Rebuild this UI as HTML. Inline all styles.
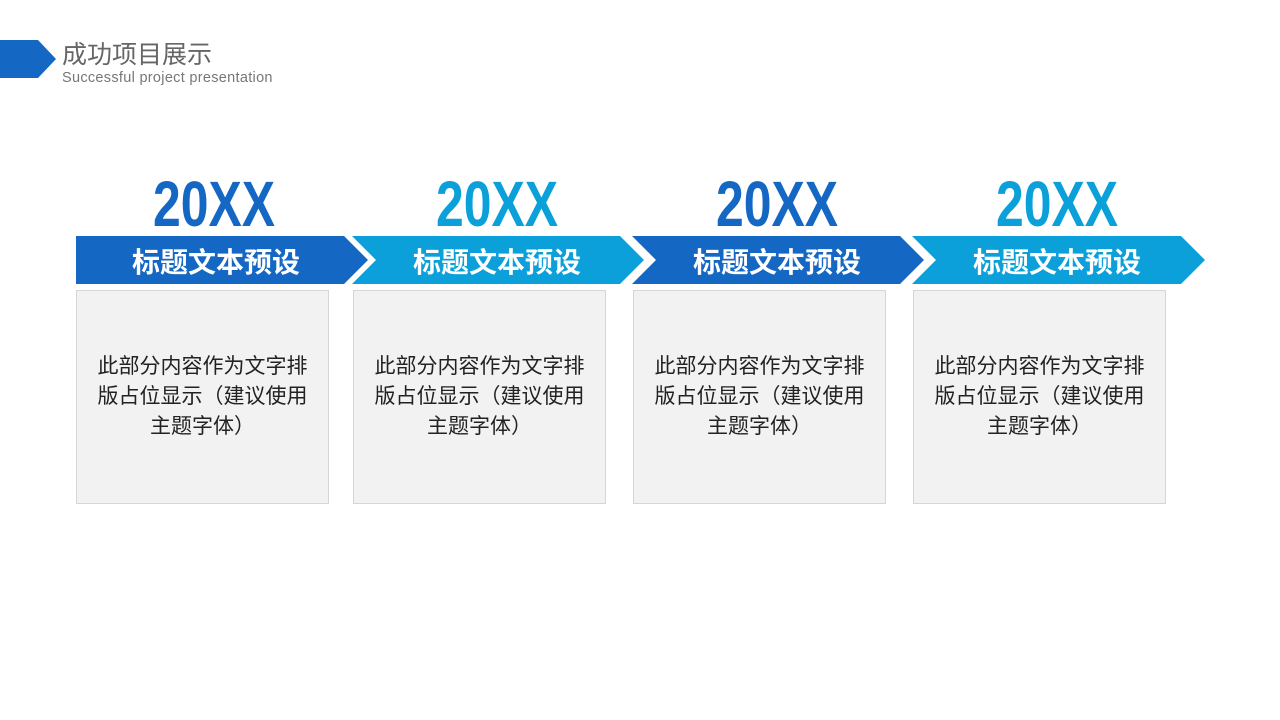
<!DOCTYPE html>
<html><head><meta charset="utf-8"><style>
body{margin:0;width:1280px;height:720px;background:#fff;position:relative;overflow:hidden;font-family:"Liberation Sans","Noto Sans CJK SC",sans-serif}
.t{position:absolute;left:62px;top:35px;font-size:25px;color:#666}
.s{position:absolute;left:62px;top:70px;font-size:14.5px;color:#777;letter-spacing:.3px}
.y{position:absolute;top:172px;width:240px;text-align:center;font:bold 64px/64px "Liberation Sans",sans-serif;transform:scaleX(.78)}
.h{position:absolute;top:241px;width:240px;text-align:center;font-size:28px;font-weight:bold;color:#fff}
.b{position:absolute;top:290px;width:253px;height:214px;background:#f2f2f2;border:1px solid #d6d6d6;box-sizing:border-box;display:flex;align-items:center;justify-content:center;text-align:center;font-size:21px;line-height:30px;color:#222;padding:0 14px}
</style></head><body>
<svg width="1280" height="720" style="position:absolute;left:0;top:0">
<polygon points="0,40 38,40 56,59 38,78 0,78" fill="#1467c3"/>
<polygon points="76,236 344,236 368,260 344,284 76,284" fill="#1467c3"/>
<polygon points="352,236 620,236 644,260 620,284 352,284 376,260" fill="#0ba0d9"/>
<polygon points="632,236 900,236 924,260 900,284 632,284 656,260" fill="#1467c3"/>
<polygon points="912,236 1181,236 1205,260 1181,284 912,284 936,260" fill="#0ba0d9"/>
</svg>
<div class="t">成功项目展示</div>
<div class="s">Successful project presentation</div>
<div class="y" style="left:94px;color:#1467c3">20XX</div>
<div class="y" style="left:377px;color:#0ba0d9">20XX</div>
<div class="y" style="left:657px;color:#1467c3">20XX</div>
<div class="y" style="left:937px;color:#0ba0d9">20XX</div>
<div class="h" style="left:96px">标题文本预设</div>
<div class="h" style="left:377px">标题文本预设</div>
<div class="h" style="left:657px">标题文本预设</div>
<div class="h" style="left:937px">标题文本预设</div>
<div class="b" style="left:76px">此部分内容作为文字排版占位显示（建议使用主题字体）</div>
<div class="b" style="left:353px">此部分内容作为文字排版占位显示（建议使用主题字体）</div>
<div class="b" style="left:633px">此部分内容作为文字排版占位显示（建议使用主题字体）</div>
<div class="b" style="left:913px">此部分内容作为文字排版占位显示（建议使用主题字体）</div>
</body></html>
